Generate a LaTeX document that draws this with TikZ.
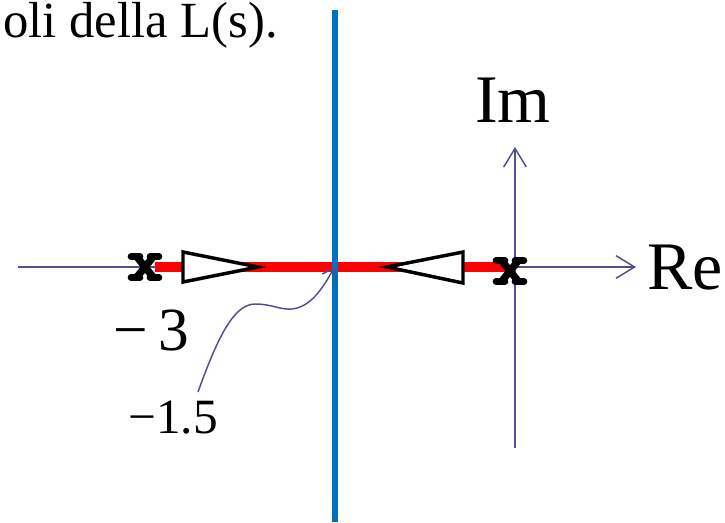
\documentclass[tikz,border=0pt]{standalone}
\usepackage{fontspec}
\setmainfont{Liberation Serif}
\usetikzlibrary{arrows.meta}
\definecolor{axiscol}{RGB}{80,80,145}
\definecolor{locusred}{RGB}{255,0,0}
\definecolor{lineblue}{RGB}{0,112,192}
\tikzset{
  axisline/.style={draw=axiscol, line width=1.1pt, -{Straight Barb[length=14pt,width=17pt,line width=1.1pt]}},
  txt/.style={inner sep=0pt, text=black},
  polex/.pic={
    \draw[black, line width=5.5pt, line cap=round] (-8,-10) -- (8,10) (-8,10) -- (8,-10);
    \draw[black, line width=5pt, line cap=round] (-14,-10.5) -- (-5,-10.5) (5,-10.5) -- (14,-10.5)
      (-14,10.5) -- (-5,10.5) (5,10.5) -- (14,10.5);
  },
  dirtri/.style={draw=black, fill=white, line width=2.6pt, line join=miter},
  pointer/.style={draw=axiscol, line width=1.1pt, -{Straight Barb[length=8pt,width=11pt,line width=1.1pt]}}
}
\begin{document}
\begin{tikzpicture}[x=0.75pt,y=-0.75pt]
\useasboundingbox (0,0) rectangle (725,522);
% text
\node[txt, anchor=base west, font=\fontsize{38}{38}\selectfont] (title) at (3,37) {oli della L(s).};
\node[txt, anchor=base, font=\fontsize{51}{51}\selectfont] (im) at (513,122) {Im};
\node[txt, anchor=base west, font=\fontsize{51}{51}\selectfont] (re) at (647,289) {Re};
\node[txt, anchor=base west, font=\fontsize{46}{46}\selectfont] (m3) at (113,350) {−\,3};
\node[txt, anchor=base west, font=\fontsize{37}{37}\selectfont] (m15) at (128,433) {−1.5};
% axis coordinates
\coordinate (hl) at (18,267);
\coordinate (hr) at (636,267);
\coordinate (vb) at (515,448);
\coordinate (vt) at (515,147);
\coordinate (rl) at (155,267);
\coordinate (rr) at (505,267);
\coordinate (bt) at (334.5,10);
\coordinate (bb) at (334.5,522);
\coordinate (bp) at (334.5,267);
\coordinate (cs) at (198,392);
% axes
\draw[axisline] (hl) -- (hr);
\draw[axisline] (vb) -- (vt);
% root locus
\draw[locusred, line width=7pt] (rl) -- (rr);
\draw[lineblue, line width=4.5pt] (bt) -- (bb);
% direction triangles
\draw[dirtri] (183,252) -- (258,267) -- (183,282) -- cycle;
\draw[dirtri] (463,252) -- (387,267) -- (463,283) -- cycle;
% poles
\pic (p1) at (145,267) {polex};
\pic (p2) at (510,271) {polex};
% pointer to breakaway point
\draw[pointer] (cs) .. controls (215,345) and (232,304) .. (255,304)
  .. controls (272,304) and (280,310) .. (292,309)
  .. controls (310,307) and (322,290) .. (bp);
\end{tikzpicture}
\end{document}
